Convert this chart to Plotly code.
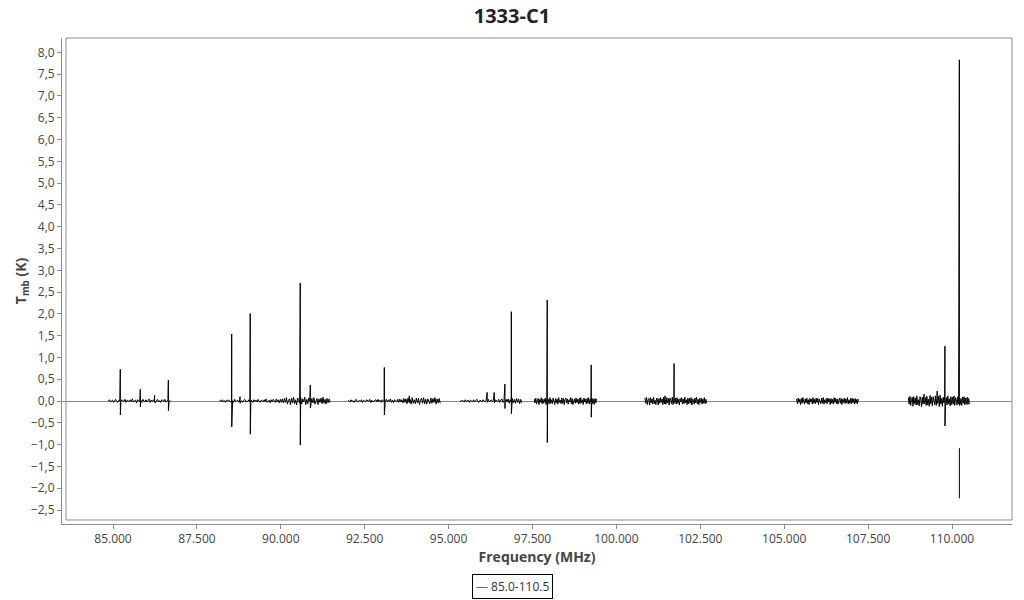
import numpy as np
import plotly.graph_objects as go

# ---- data ----
band_start = [84860, 88170, 92000, 95340, 97550, 100850, 105370, 108700]
band_end = [86700, 91470, 94750, 97180, 99410, 102690, 107210, 110520]

b1 = [0.01,0.03,-0.02,0.00,0.02,-0.03,0.01,0.04,-0.01,-0.03,0.02,0.01,-0.02,0.03,0.00,-0.01,0.04,-0.03,0.02,0.01,
      -0.02,0.03,-0.01,0.05,-0.02,0.00,0.02,-0.04,0.03,0.01,-0.02,0.02,-0.03,0.04,0.00,-0.01,0.03,-0.02,0.01,0.05,
      -0.03,0.02,-0.01,0.03,0.00,-0.04,0.02,0.04,-0.02,0.01,-0.03,0.03,0.02,-0.01,0.04,-0.02,0.00,0.03,-0.03,0.02]
b2 = [0.00,0.02,-0.01,0.03,-0.02,0.01,-0.03,0.02,0.00,0.03,-0.01,-0.02,0.02,0.01,-0.03,0.04,-0.01,0.00,0.02,-0.02,
      0.03,-0.01,0.01,-0.03,0.02,0.04,-0.02,0.00,-0.01,0.03,-0.02,0.02,0.01,-0.03,0.03,-0.01,0.02,-0.02,0.04,0.00,
      -0.03,0.02,0.01,-0.02,0.03,-0.01,0.05,-0.03,0.01,0.02,-0.04,0.03,-0.02,0.04,0.00,-0.03,0.05,-0.02,0.03,-0.04,
      0.04,-0.03,0.05,-0.04,
      0.06,-0.03,0.08,-0.07,0.02,0.05,-0.08,0.07,-0.04,0.09,-0.06,0.03,-0.09,0.07,0.01,-0.05,0.08,-0.07,0.05,-0.02,
      0.09,-0.08,0.04,-0.06,0.07,0.00,-0.09,0.06,-0.04,0.08,-0.07,0.03,0.06,-0.08,0.05,-0.03,0.07,-0.06,0.09,-0.05,
      0.04,-0.07,0.06,-0.04,0.05,-0.03]
b3 = [0.02,0.00,-0.02,0.03,-0.01,0.01,-0.03,0.02,0.04,-0.02,0.00,0.01,-0.01,0.03,-0.03,0.02,0.00,-0.02,0.03,0.01,
      -0.01,0.04,-0.03,0.02,-0.02,0.00,0.01,0.03,-0.02,0.04,-0.01,0.02,-0.03,0.03,0.00,-0.02,0.01,0.04,-0.02,0.03,
      -0.01,0.05,-0.03,0.02,-0.04,0.03,0.01,-0.02,0.04,-0.03,0.05,-0.02,0.03,-0.04,0.06,-0.03,
      0.05,-0.06,0.07,-0.02,0.04,-0.07,0.08,-0.05,0.03,-0.06,0.07,-0.04,0.06,-0.08,0.02,0.07,-0.05,0.08,-0.06,0.04,
      -0.07,0.05,0.00,-0.06,0.07,-0.05,0.06,-0.03,0.08,-0.07,0.05,-0.04,0.06,-0.05]
b4 = [0.01,-0.01,0.02,0.00,-0.02,0.03,-0.01,0.01,0.02,-0.03,0.02,0.00,-0.01,0.03,-0.02,0.01,0.04,-0.01,-0.03,0.02,
      0.01,-0.02,0.03,0.00,-0.01,0.02,-0.03,0.04,-0.02,0.01,0.03,-0.02,0.02,-0.04,0.03,0.00,-0.02,0.04,-0.03,0.02,
      0.05,-0.03,0.01,-0.04,0.04,-0.02,0.05,-0.05,0.03,-0.03,0.06,-0.04,0.04,-0.05,0.06,-0.03,0.05,-0.06,0.04,-0.04]
b5 = [0.05,-0.04,0.07,-0.07,0.02,0.06,-0.08,0.04,-0.03,0.08,-0.06,0.05,-0.05,0.01,0.07,-0.08,0.06,-0.02,0.04,-0.07,
      0.08,-0.05,0.03,-0.06,0.07,0.00,-0.08,0.06,-0.04,0.05,-0.07,0.08,-0.03,0.02,-0.06,0.07,-0.05,0.06,-0.08,0.04,
      0.07,-0.04,0.05,-0.07,0.03,-0.02,0.08,-0.06,0.06,-0.08,0.02,0.05,-0.05,0.07,-0.03,0.04,-0.07,0.06,-0.06,0.08,
      -0.04,0.03,-0.08,0.07,-0.02,0.05,-0.06,0.06,-0.05,0.08,-0.07,0.04,-0.03,0.07,-0.06,0.05,-0.08,0.06,-0.04,0.05]
b6 = [0.07,-0.05,0.09,-0.08,0.03,0.06,-0.09,0.08,-0.04,0.05,-0.07,0.09,-0.06,0.02,-0.08,0.07,0.04,-0.09,0.06,-0.05,
      0.08,-0.03,0.05,-0.08,0.09,-0.06,0.02,-0.07,0.08,-0.04,0.06,-0.09,0.07,0.01,-0.06,0.09,-0.08,0.05,-0.03,0.07,
      -0.07,0.08,-0.05,0.04,-0.09,0.06,-0.02,0.08,-0.07,0.05,-0.06,0.09,-0.04,0.03,-0.08,0.07,-0.06,0.06,-0.05,0.08,
      -0.09,0.05,0.02,-0.07,0.07,-0.04,0.09,-0.06,0.04,-0.08,0.06,-0.03,0.07,-0.07,0.05,-0.05,0.08,-0.06,0.04,-0.05]
b7 = [0.05,-0.06,0.07,-0.03,0.04,-0.08,0.06,-0.05,0.08,0.01,-0.07,0.05,-0.04,0.07,-0.06,0.03,-0.08,0.06,-0.02,0.05,
      -0.07,0.08,-0.05,0.04,-0.06,0.07,-0.03,0.06,-0.08,0.05,0.00,-0.06,0.07,-0.05,0.08,-0.07,0.03,-0.04,0.06,-0.06,
      0.07,-0.02,0.05,-0.08,0.06,-0.05,0.04,-0.07,0.08,-0.03,0.06,-0.06,0.05,-0.07,0.02,0.07,-0.05,0.06,-0.08,0.04,
      -0.03,0.07,-0.06,0.05,-0.04,0.08,-0.07,0.03,-0.05,0.06,-0.06,0.07,-0.04,0.05,-0.07,0.06,-0.05,0.04,-0.06,0.05]
b8 = [0.08,-0.07,0.11,-0.10,0.04,0.09,-0.12,0.10,-0.06,0.07,-0.09,0.12,-0.08,0.03,-0.11,0.10,0.05,-0.13,0.09,-0.07,
      0.12,-0.05,0.08,-0.10,0.11,-0.09,0.04,-0.12,0.13,-0.06,0.09,-0.11,0.10,0.02,-0.08,0.12,-0.10,0.07,-0.05,0.11,
      -0.13,0.14,-0.07,0.06,-0.12,0.09,-0.04,0.11,-0.10,0.08,-0.09,0.12,-0.06,0.05,-0.11,0.10,-0.08,0.09,-0.07,0.12,
      -0.10,0.08,0.03,-0.09,0.10,-0.06,0.11,-0.08,0.06,-0.10,0.09,-0.05,0.10,-0.09,0.07,-0.07,0.09,-0.08,0.06,-0.07]
band_values = [b1, b2, b3, b4, b5, b6, b7, b8]

spike_freq = [85218, 85815, 86240, 86650, 88537, 88785, 89090, 90580, 90880, 93085,
              93830, 96150, 96360, 96680, 96870, 97940, 99250, 101450, 101720, 109170,
              109560, 109790, 110220]
spike_max = [0.73, 0.27, 0.13, 0.48, 1.54, 0.10, 2.01, 2.71, 0.37, 0.77,
             0.12, 0.20, 0.20, 0.39, 2.05, 2.32, 0.83, 0.12, 0.86, 0.16,
             0.23, 1.26, 7.83]
spike_min = [-0.32, -0.13, -0.03, -0.22, -0.59, -0.05, -0.76, -1.01, -0.16, -0.32,
             -0.04, -0.03, -0.03, -0.17, -0.29, -0.95, -0.37, -0.06, -0.05, -0.06,
             -0.05, -0.57, -0.10]

# detached negative piece of the strongest line
tail_freq = [110220, 110220]
tail_vals = [-1.08, -2.23]

series_name = "85.0-110.5"
x_ticks = [85000, 87500, 90000, 92500, 95000, 97500, 100000, 102500, 105000, 107500, 110000]
y_ticks = [-2.5, -2.0, -1.5, -1.0, -0.5, 0.0, 0.5, 1.0, 1.5, 2.0, 2.5, 3.0, 3.5, 4.0, 4.5,
           5.0, 5.5, 6.0, 6.5, 7.0, 7.5, 8.0]

# ---- build the trace ----
xs, ys = [], []
for s, e, vals in zip(band_start, band_end, band_values):
    pts = list(zip(np.linspace(s, e, len(vals)), vals))
    for f, hi, lo in zip(spike_freq, spike_max, spike_min):
        if s <= f <= e:
            pts.append((f - 1, hi))
            pts.append((f + 1, lo))
    pts.sort(key=lambda p: p[0])
    xs += [p[0] for p in pts] + [None]
    ys += [p[1] for p in pts] + [None]
xs += tail_freq
ys += tail_vals

fig = go.Figure()
fig.add_trace(go.Scatter(x=xs, y=ys, mode="lines", name=series_name, showlegend=False,
                         line=dict(color="black", width=1), connectgaps=False))

# the page body has an 8px margin, so the figure is drawn 8px smaller and shifted
axis_gray = "#8c8c8c"
fig.update_layout(
    width=1016, height=592,
    margin=dict(l=54, r=12, t=30, b=76),
    paper_bgcolor="white", plot_bgcolor="white",
    separators=",.",
    font=dict(family="Open Sans, Noto Sans, sans-serif", color="#444", size=12),
    title=dict(text="<b>1333-C1</b>", x=0.496, xanchor="center",
               y=1 - 1 / 592, yanchor="top", pad=dict(t=0, b=0),
               font=dict(size=20, color="#222")),
    xaxis=dict(range=[83480, 111788], tickvals=x_ticks, tickformat=",d", automargin=False,
               showgrid=False, zeroline=False, showline=True, linecolor=axis_gray, linewidth=1,
               ticks="outside", ticklen=4, tickcolor=axis_gray,
               title=dict(text="<b>Frequency (MHz)</b>", font=dict(size=14, color="#444"), standoff=4)),
    yaxis=dict(range=[-2.82, 8.33], tickvals=y_ticks, tickformat=".1f", automargin=False,
               showgrid=False, zeroline=True, zerolinecolor="#888", zerolinewidth=1,
               showline=True, linecolor=axis_gray, linewidth=1,
               ticks="outside", ticklen=4, tickcolor=axis_gray,
               title=dict(text="<b>T<sub>mb</sub> (K)</b>", font=dict(size=14, color="#444"), standoff=0)),
)

# legend box (short line sample + series name)
fig.add_annotation(xref="paper", yref="paper", x=0.4737, y=-0.1296,
                   xanchor="center", yanchor="middle", showarrow=False,
                   text="<span style='color:#666'>—</span> " + series_name,
                   font=dict(size=12, color="#333"),
                   bordercolor="black", borderwidth=1, borderpad=3, bgcolor="white")

# inner frame of the plot area (offset from the axis lines)
fig.add_shape(type="rect", xref="paper", yref="paper",
              x0=4 / 950, x1=1, y0=4 / 486, y1=1,
              line=dict(color=axis_gray, width=1), fillcolor="rgba(0,0,0,0)", layer="below")

fig.write_html("out.html")
